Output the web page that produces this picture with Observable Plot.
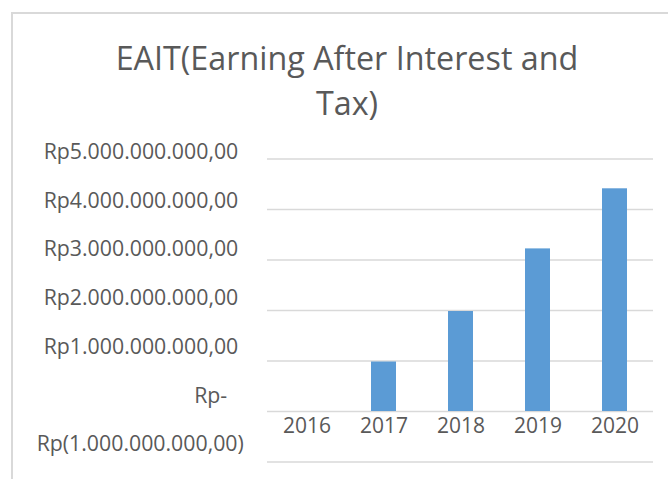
<!DOCTYPE html>
<html>
<head>
<meta charset="utf-8">
<script src="https://cdn.jsdelivr.net/npm/d3@7"></script>
<script src="https://cdn.jsdelivr.net/npm/@observablehq/plot@0.6"></script>
<style>
  html, body { margin: 0; padding: 0; background: #ffffff; }
  #wrap { position: relative; width: 668px; height: 479px; overflow: hidden; font-family: "Open Sans", sans-serif; }
  #frame { position: absolute; left: 11px; top: 12px; width: 700px; height: 520px; border: 2px solid #d9d9d9; box-sizing: border-box; }
  #title { position: absolute; left: 97px; top: 35px; width: 500px; text-align: center; font-size: 32.3px; line-height: 45px; color: #595959; }
  .layer { position: absolute; left: 0; top: 0; }
</style>
</head>
<body>
<div id="wrap">
  <div id="frame"></div>
  <div id="title">EAIT(Earning After Interest and Tax)</div>
  <div id="chart" class="layer"></div>
  <div id="labels" class="layer"></div>
</div>
<script>
const years = ["2016", "2017", "2018", "2019", "2020"];
const eait = [0, 0.98e9, 1.98e9, 3.22e9, 4.41e9];
const yTickValues = [-1e9, 0, 1e9, 2e9, 3e9, 4e9, 5e9];
const yTickLabels = [
  "Rp(1.000.000.000,00)",
  "Rp-\u00a0\u00a0\u00a0",
  "Rp1.000.000.000,00\u00a0",
  "Rp2.000.000.000,00\u00a0",
  "Rp3.000.000.000,00\u00a0",
  "Rp4.000.000.000,00\u00a0",
  "Rp5.000.000.000,00\u00a0"
];

const data = years.map((y, i) => ({year: y, value: eait[i]}));

const chart = Plot.plot({
  width: 668,
  height: 479,
  marginLeft: 267,
  marginRight: 15,
  marginTop: 158.5,
  marginBottom: 17.5,
  style: {background: "transparent", fontFamily: "Open Sans", fontSize: "21px", color: "#595959"},
  x: {type: "band", domain: years, paddingInner: 0.676, paddingOuter: 0.338, axis: null},
  y: {domain: [-1e9, 5e9], axis: null},
  marks: [
    Plot.ruleY(yTickValues, {stroke: "#d9d9d9", strokeWidth: 1.6}),
    Plot.barY(data, {x: "year", y: "value", fill: "#5b9bd5"}),
    Plot.text(data, {x: "year", y: () => 0, text: "year", dy: 15, fill: "#595959", fontSize: 21})
  ]
});
document.getElementById("chart").appendChild(chart);

const labels = Plot.plot({
  width: 668,
  height: 479,
  marginLeft: 243.3,
  marginRight: 15,
  marginTop: 151.5,
  marginBottom: 35,
  style: {background: "transparent", fontFamily: "Open Sans", fontSize: "21px", color: "#595959"},
  x: {axis: null},
  y: {domain: [-1e9, 5e9], axis: null},
  marks: [
    Plot.axisY({
      ticks: yTickValues,
      tickFormat: d => yTickLabels[yTickValues.indexOf(d)],
      tickSize: 0,
      tickPadding: 0,
      anchor: "left",
      fill: "#595959",
      fontSize: 21.3,
      label: null
    })
  ]
});
document.getElementById("labels").appendChild(labels);
</script>
</body>
</html>
